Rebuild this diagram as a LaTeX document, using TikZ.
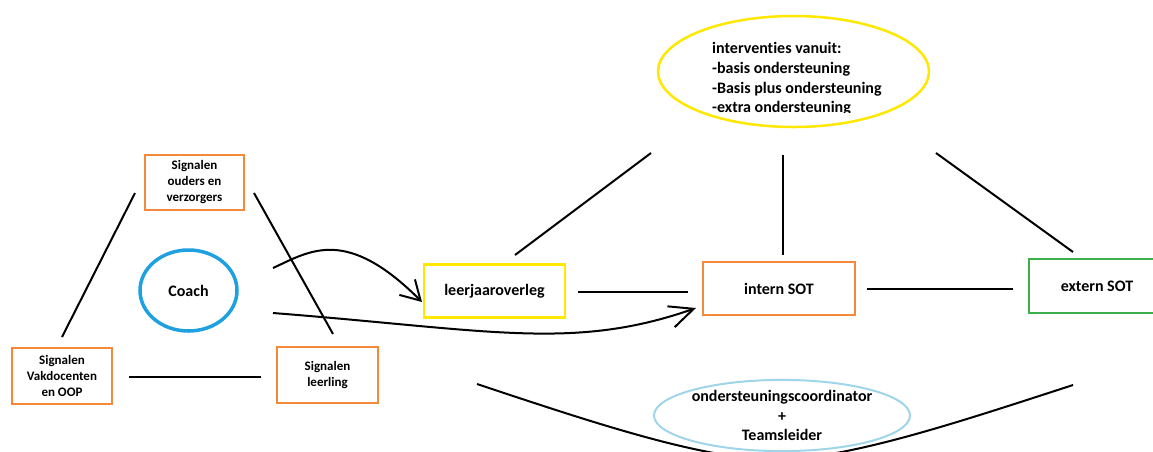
\documentclass[tikz,border=0pt]{standalone}
\usepackage{fontspec}
\setmainfont{Carlito}[Ligatures=NoCommon]
\usetikzlibrary{arrows.meta,shapes.geometric}
\definecolor{orng}{HTML}{F5893A}
\definecolor{ylw}{HTML}{FFE800}
\definecolor{grn}{HTML}{3CB04C}
\definecolor{coachblue}{HTML}{1FA0E0}
\definecolor{lblue}{HTML}{9ED5E8}
\begin{document}
\begin{tikzpicture}[x=1pt,y=-1pt,
  sigbox/.style={draw=orng,line width=2.4pt,inner sep=0pt,align=center,
    font=\bfseries\fontsize{13}{16}\selectfont},
  bigbox/.style={draw,line width=2.6pt,inner sep=0pt,align=center,
    font=\bfseries\fontsize{16}{19}\selectfont},
  conn/.style={line width=2pt,black},
  arr/.style={conn,-{Straight Barb[length=19pt,width=22pt,line width=2pt]}},
]
\useasboundingbox (0,0) rectangle (1153,451);

% nodes
\node[sigbox,minimum width=99pt,minimum height=55pt] (ouders) at (194.5,182.5) {Signalen\\ouders en\\verzorgers};
\node[sigbox,minimum width=100pt,minimum height=56pt] (vak) at (62,376) {Signalen\\Vakdocenten\\en OOP};
\node[sigbox,minimum width=101pt,minimum height=56pt] (leerling) at (327.5,375) {Signalen\\leerling};
\node[draw=coachblue,line width=3.5pt,ellipse,minimum width=97pt,minimum height=81pt,inner sep=0pt,
  font=\bfseries\fontsize{16}{19}\selectfont] (coach) at (188.5,290.5) {Coach};
\node[bigbox,draw=ylw,minimum width=141pt,minimum height=53pt] (ljo) at (494.5,291) {leerjaaroverleg};
\node[bigbox,draw=orng,minimum width=152pt,minimum height=53pt] (intern) at (779,288.5) {intern SOT};
\node[bigbox,draw=grn,minimum width=136pt,minimum height=54pt] (extern) at (1097,286) {extern SOT};

% top ellipse
\node[draw=ylw,line width=2.5pt,ellipse,minimum width=271pt,minimum height=111pt,inner sep=0pt] (interv) at (793.5,71.5) {};
\begin{scope}
\clip (600,0) rectangle (1000,112.5);
\node[anchor=west,align=left,inner sep=0pt,font=\bfseries\fontsize{16}{19.7}\selectfont] (intervtext) at (712,79)
  {interventies vanuit:\\-basis ondersteuning\\-Basis plus ondersteuning\\-extra ondersteuning};
\end{scope}

% bottom ellipse
\node[draw=lblue,line width=2pt,ellipse,minimum width=256pt,minimum height=65pt,inner sep=0pt,
  align=center,font=\bfseries\fontsize{16}{19.5}\selectfont] (osc) at (782,415.5)
  {ondersteuningscoordinator\\+\\Teamsleider};

% connector end points
\coordinate (o1) at (135,193); \coordinate (v1) at (62,337);
\coordinate (o2) at (254,193); \coordinate (l1) at (333,334);
\coordinate (v2) at (129,377); \coordinate (l2) at (261,377);
\coordinate (c1) at (273,268); \coordinate (ljoin) at (422,302);
\coordinate (c2) at (273,313); \coordinate (intin) at (696,308);
\coordinate (ljoR) at (578,292); \coordinate (intL) at (688,292);
\coordinate (intR) at (867,289); \coordinate (extL) at (1013,289);
\coordinate (iv1) at (651,153); \coordinate (ljoT) at (515,255);
\coordinate (iv2) at (783,155); \coordinate (intT) at (783,255);
\coordinate (iv3) at (936,153); \coordinate (extT) at (1073,252);
\coordinate (bl) at (477,384); \coordinate (bm) at (775,460); \coordinate (br) at (1073,385);

% connectors
\draw[conn] (o1) -- (v1);
\draw[conn] (o2) -- (l1);
\draw[conn] (v2) -- (l2);
\draw[arr] (c1) .. controls (310,251) and (346,226) .. (ljoin);
\draw[arr,-{Straight Barb[length=24pt,width=22pt,line width=2pt]}] (c2) .. controls (490,330) and (573,351) .. (intin);
\draw[conn] (ljoR) -- (intL);
\draw[conn] (intR) -- (extL);
\draw[conn] (iv1) -- (ljoT);
\draw[conn] (iv2) -- (intT);
\draw[conn] (iv3) -- (extT);
\draw[conn] (bl) .. controls (600,425) and (700,458) .. (bm) .. controls (850,458) and (950,425) .. (br);
\end{tikzpicture}
\end{document}
